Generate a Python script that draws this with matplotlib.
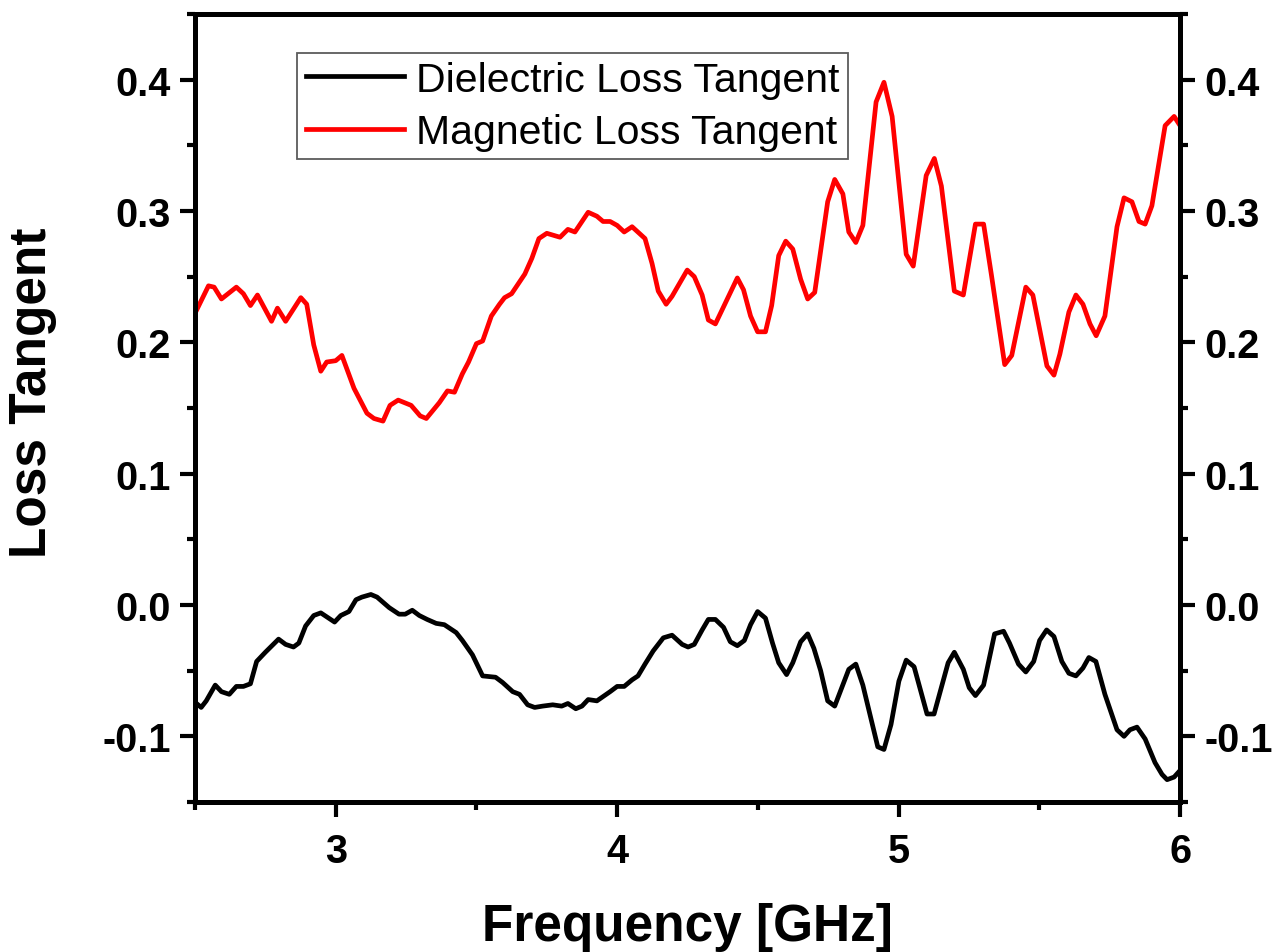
import numpy as np
import matplotlib
matplotlib.use("Agg")
import matplotlib.pyplot as plt
from matplotlib.ticker import MultipleLocator, FormatStrFormatter

# magnetic loss tangent (red)
freq_mag = [2.500, 2.548, 2.568, 2.594, 2.647, 2.672, 2.697, 2.722, 2.772, 2.793,
            2.822, 2.876, 2.897, 2.922, 2.947, 2.968, 3.000, 3.022, 3.065, 3.111,
            3.136, 3.168, 3.193, 3.222, 3.268, 3.300, 3.322, 3.368, 3.397, 3.422,
            3.450, 3.472, 3.500, 3.522, 3.553, 3.582, 3.600, 3.625, 3.672, 3.697,
            3.722, 3.750, 3.797, 3.825, 3.850, 3.897, 3.928, 3.950, 3.975, 4.000,
            4.025, 4.053, 4.099, 4.124, 4.146, 4.174, 4.195, 4.249, 4.274, 4.302,
            4.324, 4.349, 4.427, 4.449, 4.474, 4.499, 4.527, 4.549, 4.574, 4.599,
            4.624, 4.652, 4.677, 4.702, 4.748, 4.773, 4.802, 4.823, 4.848, 4.873,
            4.920, 4.948, 4.977, 5.027, 5.052, 5.098, 5.127, 5.152, 5.198, 5.230,
            5.273, 5.302, 5.330, 5.377, 5.402, 5.452, 5.477, 5.527, 5.552, 5.573,
            5.605, 5.630, 5.655, 5.680, 5.702, 5.733, 5.776, 5.801, 5.829, 5.854,
            5.876, 5.900, 5.947, 5.979, 6.000]
tan_mag = [0.222, 0.243, 0.242, 0.233, 0.242, 0.237, 0.228, 0.236, 0.216, 0.226,
           0.216, 0.234, 0.229, 0.198, 0.178, 0.185, 0.186, 0.190, 0.165, 0.146,
           0.142, 0.140, 0.152, 0.156, 0.152, 0.144, 0.142, 0.154, 0.163, 0.162,
           0.176, 0.185, 0.199, 0.201, 0.220, 0.229, 0.234, 0.237, 0.252, 0.264,
           0.279, 0.283, 0.280, 0.286, 0.284, 0.299, 0.296, 0.292, 0.292, 0.289,
           0.284, 0.288, 0.279, 0.260, 0.239, 0.229, 0.235, 0.255, 0.250, 0.236,
           0.217, 0.214, 0.249, 0.240, 0.220, 0.208, 0.208, 0.228, 0.266, 0.277,
           0.271, 0.248, 0.233, 0.238, 0.307, 0.324, 0.313, 0.284, 0.276, 0.289,
           0.383, 0.398, 0.372, 0.267, 0.258, 0.327, 0.340, 0.319, 0.239, 0.236,
           0.290, 0.290, 0.251, 0.183, 0.190, 0.242, 0.236, 0.182, 0.175, 0.191,
           0.223, 0.236, 0.229, 0.214, 0.205, 0.220, 0.288, 0.310, 0.307, 0.292,
           0.290, 0.304, 0.365, 0.372, 0.365]

# dielectric loss tangent (black)
freq_diel = [2.500, 2.522, 2.540, 2.572, 2.594, 2.622, 2.647, 2.672, 2.697, 2.719,
             2.750, 2.797, 2.822, 2.850, 2.869, 2.893, 2.922, 2.947, 2.996, 3.018,
             3.047, 3.072, 3.093, 3.125, 3.147, 3.190, 3.225, 3.247, 3.272, 3.297,
             3.325, 3.357, 3.386, 3.428, 3.450, 3.486, 3.522, 3.568, 3.593, 3.629,
             3.653, 3.682, 3.707, 3.735, 3.771, 3.803, 3.825, 3.853, 3.875, 3.897,
             3.928, 3.975, 4.000, 4.025, 4.053, 4.074, 4.099, 4.128, 4.164, 4.195,
             4.231, 4.252, 4.274, 4.302, 4.324, 4.349, 4.378, 4.402, 4.427, 4.452,
             4.474, 4.499, 4.527, 4.552, 4.574, 4.602, 4.624, 4.652, 4.677, 4.699,
             4.723, 4.748, 4.773, 4.823, 4.848, 4.873, 4.926, 4.948, 4.973, 5.001,
             5.027, 5.055, 5.101, 5.126, 5.176, 5.198, 5.230, 5.251, 5.273, 5.302,
             5.341, 5.373, 5.394, 5.426, 5.452, 5.480, 5.501, 5.526, 5.552, 5.580,
             5.605, 5.630, 5.655, 5.676, 5.701, 5.733, 5.776, 5.801, 5.822, 5.847,
             5.876, 5.911, 5.936, 5.954, 5.979, 6.000]
tan_diel = [-0.074, -0.078, -0.073, -0.061, -0.066, -0.068, -0.062, -0.062, -0.060, -0.043,
            -0.036, -0.026, -0.030, -0.032, -0.029, -0.016, -0.008, -0.006, -0.013, -0.008,
            -0.005, 0.004, 0.006, 0.008, 0.006, -0.002, -0.007, -0.007, -0.004, -0.008,
            -0.011, -0.014, -0.015, -0.021, -0.027, -0.038, -0.054, -0.055, -0.059, -0.066,
            -0.068, -0.076, -0.078, -0.077, -0.076, -0.077, -0.075, -0.079, -0.077, -0.072,
            -0.073, -0.066, -0.062, -0.062, -0.057, -0.054, -0.045, -0.035, -0.025, -0.023,
            -0.030, -0.032, -0.030, -0.019, -0.011, -0.011, -0.017, -0.028, -0.031, -0.027,
            -0.015, -0.005, -0.010, -0.029, -0.044, -0.053, -0.044, -0.028, -0.022, -0.033,
            -0.050, -0.073, -0.077, -0.049, -0.045, -0.061, -0.108, -0.110, -0.091, -0.058,
            -0.042, -0.047, -0.083, -0.083, -0.044, -0.036, -0.049, -0.063, -0.069, -0.061,
            -0.022, -0.020, -0.029, -0.045, -0.051, -0.043, -0.027, -0.019, -0.024, -0.043,
            -0.052, -0.054, -0.048, -0.040, -0.043, -0.068, -0.095, -0.100, -0.095, -0.093,
            -0.102, -0.120, -0.129, -0.133, -0.131, -0.126]

plt.rcParams['font.family'] = ['Liberation Sans', 'DejaVu Sans']
plt.rcParams['axes.unicode_minus'] = False

fig = plt.figure(figsize=(12.87, 9.53), dpi=100)
ax = fig.add_axes([0.1515, 0.1574, 0.7654, 0.8269])

ax.plot(freq_diel, tan_diel, color='black', linewidth=3.4, label='Dielectric Loss Tangent')
ax.plot(freq_mag, tan_mag, color='#ff0000', linewidth=3.4, label='Magnetic Loss Tangent')

ax.set_xlim(2.5, 6.0)
ax.set_ylim(-0.15, 0.45)
ax.xaxis.set_major_locator(MultipleLocator(1))
ax.xaxis.set_minor_locator(MultipleLocator(0.5))
ax.yaxis.set_major_locator(MultipleLocator(0.1))
ax.yaxis.set_minor_locator(MultipleLocator(0.05))
ax.yaxis.set_major_formatter(FormatStrFormatter('%.1f'))
ax.xaxis.set_major_formatter(FormatStrFormatter('%d'))

for s in ax.spines.values():
    s.set_linewidth(3.6)

ax.tick_params(which='both', direction='out', top=False, right=True,
               labelright=True, width=3)
ax.tick_params(which='major', length=10.5, labelsize=28.5, pad=7)
ax.tick_params(axis='x', which='major', pad=11)
ax.tick_params(which='minor', length=5.5)
for t in ax.xaxis.get_major_ticks() + ax.yaxis.get_major_ticks():
    t.label1.set_fontweight('bold')
    t.label2.set_fontweight('bold')

ax.set_xlabel('Frequency [GHz]', fontsize=37, fontweight='bold')
ax.xaxis.set_label_coords(0.5, -0.127)
ax.set_ylabel('Loss Tangent', fontsize=37, fontweight='bold')
ax.yaxis.set_label_coords(-0.14, 0.52)

leg = ax.legend(loc='upper left', bbox_to_anchor=(0.104, 0.951), fontsize=29.5,
                frameon=True, fancybox=False, edgecolor='#333333', borderpad=0.2,
                handlelength=2.4, handletextpad=0.3, labelspacing=0.35,
                borderaxespad=0)
leg.get_frame().set_linewidth(1.3)

fig.savefig('out.png', dpi=100)
